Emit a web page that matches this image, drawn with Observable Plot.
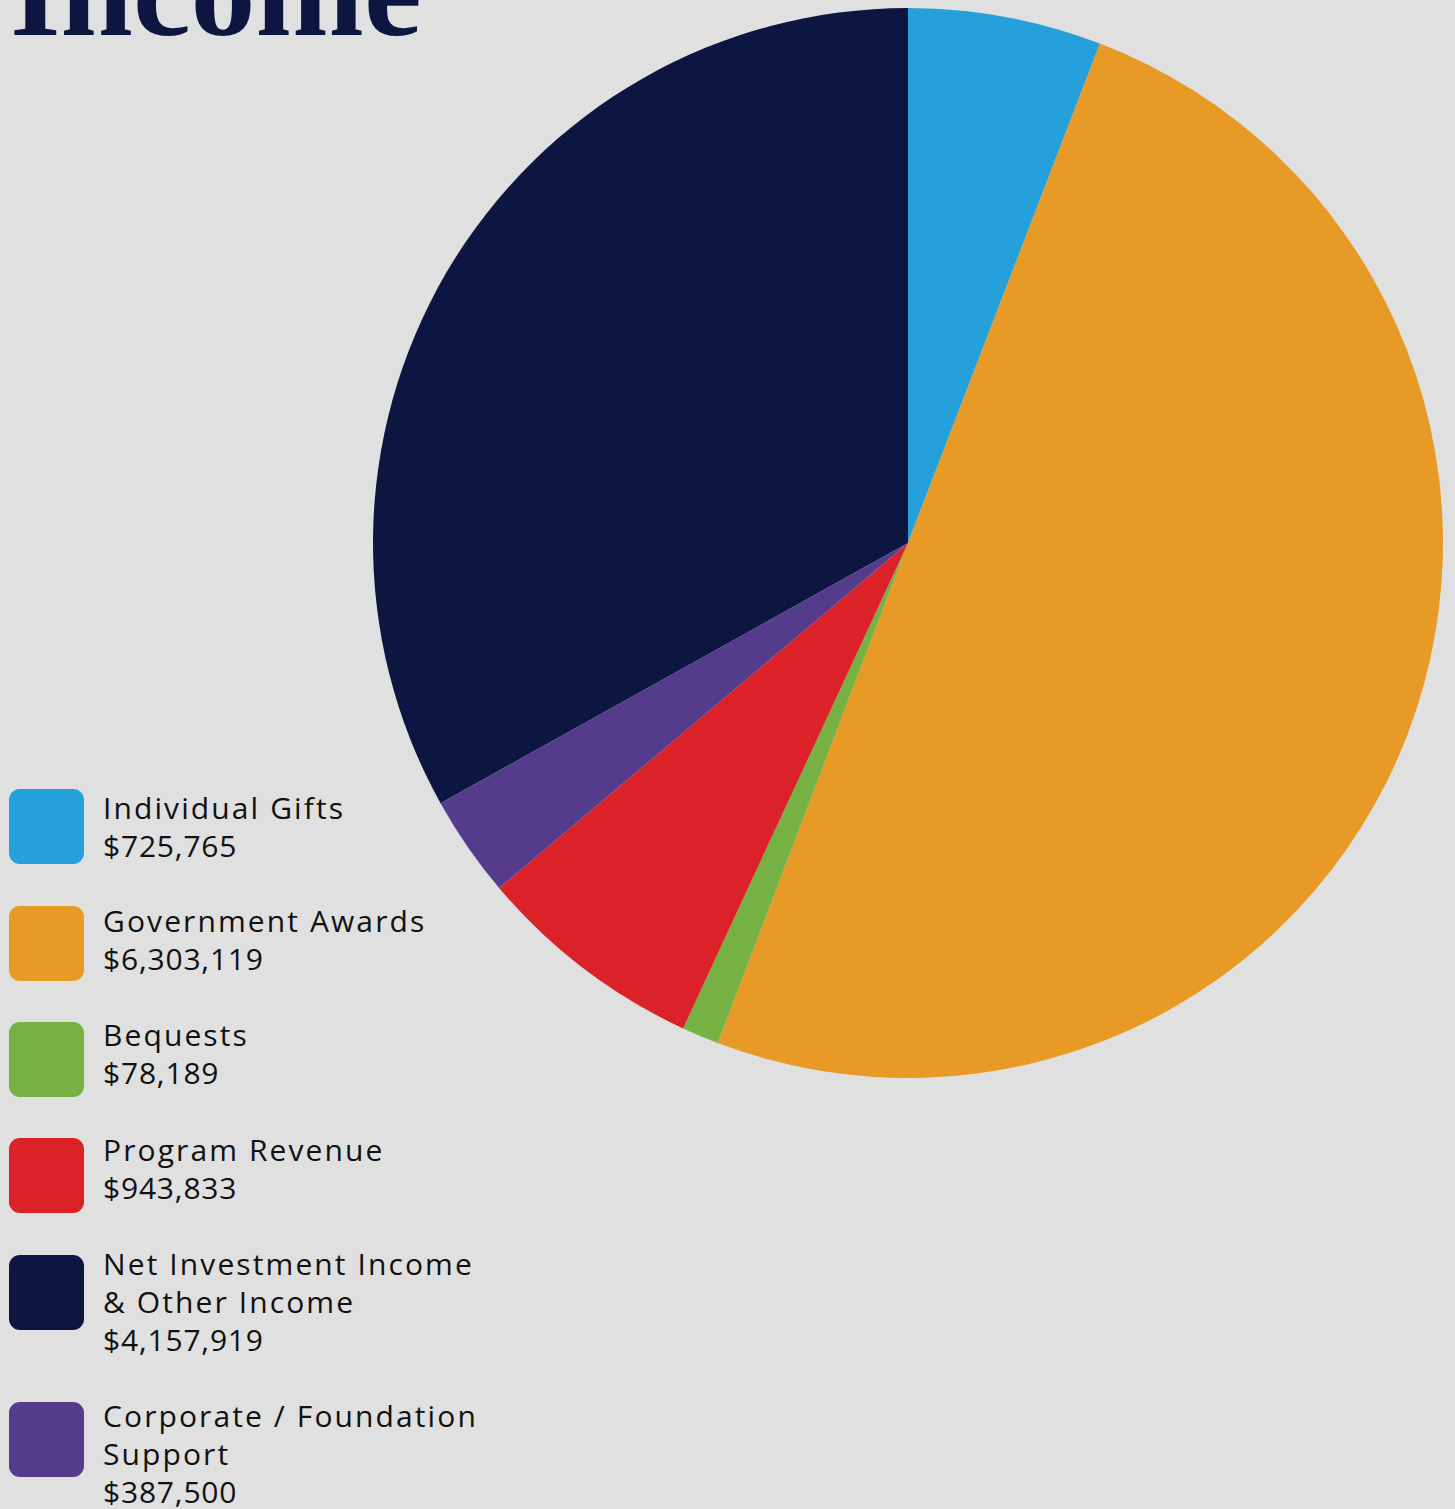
<!DOCTYPE html>
<html><head><meta charset="utf-8">
<script src="https://cdn.jsdelivr.net/npm/d3@7"></script>
<script src="https://cdn.jsdelivr.net/npm/@observablehq/plot@0.6"></script>
<style>
html,body{margin:0;padding:0;background:#e0e0e0;}
#wrap{position:relative;width:1455px;height:1509px;overflow:hidden;background:#e0e0e0;}
#chart{position:absolute;left:0;top:0;}
#title{position:absolute;left:10px;top:-74px;font-family:"Liberation Serif",serif;font-weight:700;font-size:130px;line-height:1;color:#0d1640;margin:0;white-space:nowrap;}
.sw{position:absolute;left:9px;width:75px;height:75px;border-radius:11px;}
.lt{position:absolute;left:103px;font-family:"Open Sans",sans-serif;font-size:30px;line-height:38px;color:#111;white-space:nowrap;}
.lt .lab{letter-spacing:2.1px;}
.lt .num{letter-spacing:0.8px;}
</style></head>
<body>
<div id="wrap">
  <div id="chart"></div>
  <div id="title">Income</div>
  <div id="legend"></div>
</div>
<script>
// ---- data ----
const categories = ["Individual Gifts","Government Awards","Bequests","Program Revenue","Net Investment Income & Other Income","Corporate / Foundation Support"];
const labelLines = [["Individual Gifts"],["Government Awards"],["Bequests"],["Program Revenue"],["Net Investment Income","& Other Income"],["Corporate / Foundation","Support"]];
const amounts = [725765, 6303119, 78189, 943833, 4157919, 387500];
// slice shares (%) as drawn in the picture
const sliceShares = [5.84, 49.94, 1.12, 6.94, 33.08, 3.07];
const colors = ["#26a0da","#e89a26","#76b143","#dc2229","#0d1640","#543b8c"];
const pieOrder = ["Individual Gifts","Government Awards","Bequests","Program Revenue","Corporate / Foundation Support","Net Investment Income & Other Income"];

// ---- layout ----
const W = 1455, H = 1509;
const CX = 908, CY = 543, R = 535;
const swatchTops = [789, 906, 1022, 1138, 1255, 1402];
const textCapTops = [798, 911, 1025, 1140, 1254, 1406];

const rows = categories.map((c, i) => ({category: c, value: sliceShares[i], amount: amounts[i]}));
const color = Plot.scale({color: {type: "ordinal", domain: categories, range: colors}});
const fmt = d3.format("$,");

const pieMark = () => {
  const g = d3.create("svg:g").attr("transform", `translate(${CX},${CY})`);
  const pie = d3.pie().value(d => d.value)
    .sort((a, b) => pieOrder.indexOf(a.category) - pieOrder.indexOf(b.category));
  const arc = d3.arc().innerRadius(0).outerRadius(R);
  g.selectAll("path").data(pie(rows)).join("path")
    .attr("d", arc)
    .attr("fill", d => color.apply(d.data.category));
  return g.node();
};

const chart = Plot.plot({
  width: W, height: H,
  margin: 0,
  style: {background: "transparent", overflow: "visible"},
  marks: [pieMark]
});
document.getElementById("chart").append(chart);

// ---- legend ----
const esc = s => s.replace(/&/g, "&amp;");
const legend = document.getElementById("legend");
categories.forEach((c, i) => {
  const sw = document.createElement("div");
  sw.className = "sw";
  sw.style.top = swatchTops[i] + "px";
  sw.style.background = color.apply(c);
  legend.append(sw);
  const t = document.createElement("div");
  t.className = "lt";
  t.style.top = (textCapTops[i] - 9.2) + "px";
  t.innerHTML = labelLines[i].map(s => `<span class="lab">${esc(s)}</span>`)
    .concat([`<span class="num">${fmt(amounts[i])}</span>`]).join("<br>");
  legend.append(t);
});
</script>
</body></html>
